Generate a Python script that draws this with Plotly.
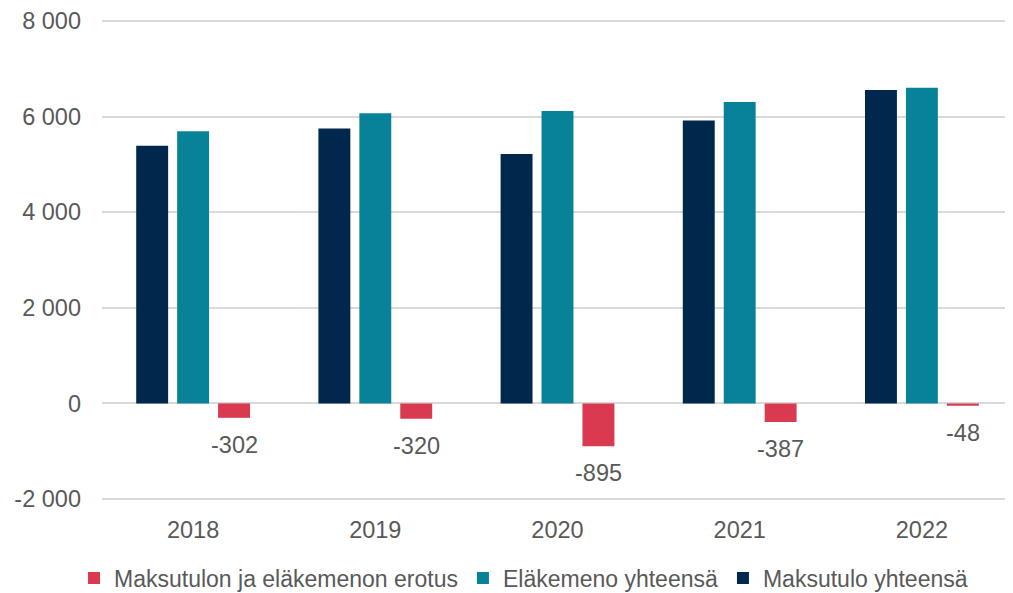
import plotly.graph_objects as go

years = [2018, 2019, 2020, 2021, 2022]
year_labels = ["2018", "2019", "2020", "2021", "2022"]
maksutulo = [5390, 5750, 5220, 5920, 6555]
elakemeno = [5692, 6070, 6115, 6307, 6603]
erotus = [-302, -320, -895, -387, -48]
erotus_labels = ["-302", "-320", "-895", "-387", "-48"]
y_ticks = [-2000, 0, 2000, 4000, 6000, 8000]
y_tick_labels = ["-2 000", "0", "2 000", "4 000", "6 000", "8 000"]

FONT = "Liberation Sans, Arial, sans-serif"
TXT = "#595959"
FS = 23.5

fig = go.Figure()
fig.add_trace(go.Bar(x=years, y=maksutulo, name="Maksutulo yhteensä",
                     marker=dict(color="#00284C", line=dict(width=0))))
fig.add_trace(go.Bar(x=years, y=elakemeno, name="Eläkemeno yhteensä",
                     marker=dict(color="#088299", line=dict(width=0))))
fig.add_trace(go.Bar(x=years, y=erotus, name="Maksutulon ja eläkemenon erotus",
                     marker=dict(color="#D93A50", line=dict(width=0))))

for yr, v, lab in zip(years, erotus, erotus_labels):
    fig.add_annotation(x=yr, y=v, xref="x", yref="y", text=lab, showarrow=False,
                       xshift=41, yshift=-27, yanchor="middle",
                       font=dict(family=FONT, size=FS, color=TXT))

# page body has an 8px default margin, so the figure is slightly smaller
fig.update_layout(
    width=1005, height=585,
    margin=dict(l=94, r=0, t=11, b=92, autoexpand=False),
    paper_bgcolor="white", plot_bgcolor="white",
    barmode="group", bargap=0.326, bargroupgap=0.22,
    font=dict(family=FONT, size=FS, color=TXT),
    showlegend=True,
    legend=dict(orientation="h", traceorder="reversed",
                xref="container", yref="container",
                x=0.0657, xanchor="left", y=0.0256, yanchor="middle",
                font=dict(family=FONT, size=23, color=TXT),
                itemwidth=30, tracegroupgap=0),
    xaxis=dict(type="linear", range=[2017.5, 2022.5],
               tickvals=years, ticktext=year_labels,
               showgrid=False, showline=False, zeroline=False, ticks="",
               ticklabelstandoff=12,
               tickfont=dict(family=FONT, size=FS, color=TXT)),
    yaxis=dict(range=[-2042, 8042], tickvals=y_ticks, ticktext=y_tick_labels,
               showgrid=True, gridcolor="#D9D9D9", gridwidth=1.5,
               zeroline=True, zerolinecolor="#D9D9D9", zerolinewidth=1.5,
               showline=False, ticks="", ticklabelstandoff=20,
               tickfont=dict(family=FONT, size=FS, color=TXT)),
)

fig.write_html("out.html")
